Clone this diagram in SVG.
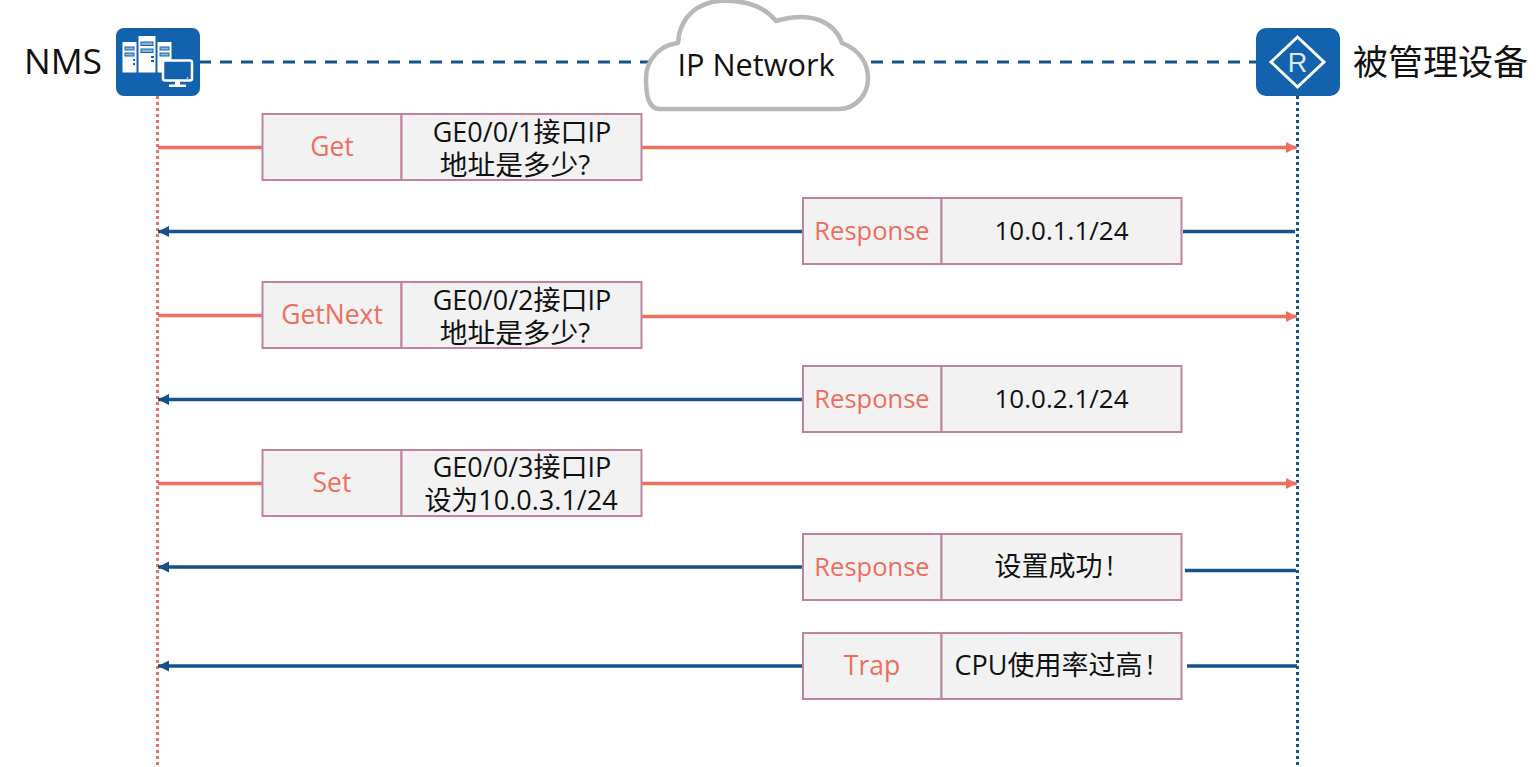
<svg xmlns="http://www.w3.org/2000/svg" width="1540" height="767" viewBox="0 0 1540 767">
<style>
text{font-family:"Open Sans","Noto Sans CJK SC","Noto Sans",sans-serif;text-anchor:middle;fill:#111}
.k{font-size:25.500px;fill:#ee6e5e}
.l{font-size:26.500px;fill:#ee6e5e}
.t{font-size:27px}
.q{font-size:27.700px}
.n{font-size:26px}
.box{fill:#f2f2f2;stroke:#bf82a0;stroke-width:2}
.r{stroke:#f0705f;stroke-width:3.500;fill:none}
.b{stroke:#155289;stroke-width:3.500;fill:none}
.ico{fill:#1262ad}
</style>
<defs>
<marker id="ar" markerUnits="userSpaceOnUse" markerWidth="12" markerHeight="12" refX="11" refY="6" orient="auto"><path d="M0,0.5L11,6L0,11.500z" fill="#f0705f"/></marker>
<marker id="ab" markerUnits="userSpaceOnUse" markerWidth="12" markerHeight="12" refX="11" refY="6" orient="auto"><path d="M0,0.5L11,6L0,11.500z" fill="#155289"/></marker>
</defs>
<rect width="1540" height="767" fill="#fff"/>
<g id="connectors">
<path d="M199,62H1256" stroke="#155289" stroke-width="3" stroke-dasharray="12 9" fill="none"/>
<path d="M157.500,96V767" stroke="#f0705f" stroke-width="3" stroke-dasharray="3 3" fill="none"/>
<path d="M1297.500,96V767" stroke="#155289" stroke-width="3" stroke-dasharray="3 3" fill="none"/>
<path class="r" d="M158,147.500H263"/><path class="r" d="M642,147.500H1297" marker-end="url(#ar)"/>
<path class="b" d="M1183,231.500H1295"/><path class="b" d="M803,231.500H158" marker-end="url(#ab)"/>
<path class="r" d="M158,315.500H263"/><path class="r" d="M642,316.500H1297" marker-end="url(#ar)"/>
<path class="b" d="M803,399.500H158" marker-end="url(#ab)"/>
<path class="r" d="M158,483.500H263"/><path class="r" d="M642,483.500H1297" marker-end="url(#ar)"/>
<path class="b" d="M1185,570.500H1296"/><path class="b" d="M803,567H158" marker-end="url(#ab)"/>
<path class="b" d="M1187,666H1297"/><path class="b" d="M803,666H158" marker-end="url(#ab)"/>
</g>
<g id="nms">
<text x="63" y="74" style="font-size:35.500px">NMS</text>
<rect class="ico" x="116" y="28" width="84" height="68" rx="8"/>
<g fill="#fff">
<rect x="122.500" y="42" width="14" height="30.500"/><rect x="138.500" y="36" width="17" height="36.500"/><rect x="157.500" y="42" width="14" height="30.500"/>
</g>
<g fill="#8db4d8" stroke="#1262ad" stroke-width="1"><rect x="125" y="47" width="9" height="3"/><rect x="125" y="53" width="9" height="3"/><rect x="141" y="42" width="12" height="3.500"/><rect x="141" y="49" width="12" height="3.500"/><rect x="160" y="47" width="9" height="3"/><rect x="160" y="53" width="9" height="3"/></g>
<g fill="#1262ad"><rect x="133" y="59" width="2" height="2"/><rect x="133" y="63" width="2" height="2"/><rect x="151" y="56" width="3" height="2"/><rect x="151" y="60" width="3" height="2"/></g>
<rect x="163" y="60.500" width="29" height="20" rx="2" fill="#1262ad" stroke="#fff" stroke-width="2.500"/>
<circle cx="187.500" cy="78" r="0.800" fill="#fff"/>
<path d="M175,81h5v3.500h6v2.500h-17v-2.500h6z" fill="#fff"/>
</g>
<g id="cloud">
<path d="M660,109H838C856,109 868,95 868,78C868,62 858,49 842,43C835,23 812,10 776,21C762,3 735,-2 712,2C690,7 679,24 678,43C660,45 646,60 646,78C646,95 648,109 660,109z" fill="#fff" stroke="#b8b8b8" stroke-width="4.500" stroke-linejoin="round"/>
<text x="756" y="76" style="font-size:30.700px">IP Network</text>
</g>
<g id="device">
<rect class="ico" x="1256" y="28" width="84" height="68" rx="10"/>
<path d="M1297.500,37L1324,62L1297.500,87L1271,62z" fill="none" stroke="#fff" stroke-width="3"/>
<text x="1297.500" y="72" style="font-family:'Liberation Sans',sans-serif;font-size:27px;fill:#dbe8f5">R</text>
<text x="1440.500" y="75" style="font-size:35px">被管理设备</text>
</g>
<g id="msg1"><rect class="box" x="262.500" y="114" width="139" height="66"/><rect class="box" x="401.500" y="114" width="240" height="66"/><text class="l" x="332" y="156">Get</text><text class="t"><tspan x="522" y="142">GE0/0/1接口IP</tspan><tspan class="q" x="515" y="175">地址是多少?</tspan></text></g>
<g id="msg2"><rect class="box" x="803" y="198" width="138.500" height="66"/><rect class="box" x="941.500" y="198" width="240" height="66"/><text class="k" x="872" y="240">Response</text><text class="n" x="1061.500" y="240">10.0.1.1/24</text></g>
<g id="msg3"><rect class="box" x="262.500" y="282" width="139" height="66"/><rect class="box" x="401.500" y="282" width="240" height="66"/><text class="l" x="332" y="324">GetNext</text><text class="t"><tspan x="522" y="310">GE0/0/2接口IP</tspan><tspan class="q" x="515" y="343">地址是多少?</tspan></text></g>
<g id="msg4"><rect class="box" x="803" y="366" width="138.500" height="66"/><rect class="box" x="941.500" y="366" width="240" height="66"/><text class="k" x="872" y="408">Response</text><text class="n" x="1061.500" y="408">10.0.2.1/24</text></g>
<g id="msg5"><rect class="box" x="262.500" y="450" width="139" height="66"/><rect class="box" x="401.500" y="450" width="240" height="66"/><text class="l" x="332" y="492">Set</text><text class="t"><tspan x="522" y="477">GE0/0/3接口IP</tspan><tspan x="521" y="510">设为10.0.3.1/24</tspan></text></g>
<g id="msg6"><rect class="box" x="803" y="534" width="138.500" height="66"/><rect class="box" x="941.500" y="534" width="240" height="66"/><text class="k" x="872" y="576">Response</text><text class="t" x="1054" y="576">设置成功<tspan dx="4">!</tspan></text></g>
<g id="msg7"><rect class="box" x="803" y="633" width="138.500" height="66"/><rect class="box" x="941.500" y="633" width="240" height="66"/><text class="l" x="872" y="675">Trap</text><text class="t" x="1054" y="675">CPU使用率过高<tspan dx="4">!</tspan></text></g>
</svg>
